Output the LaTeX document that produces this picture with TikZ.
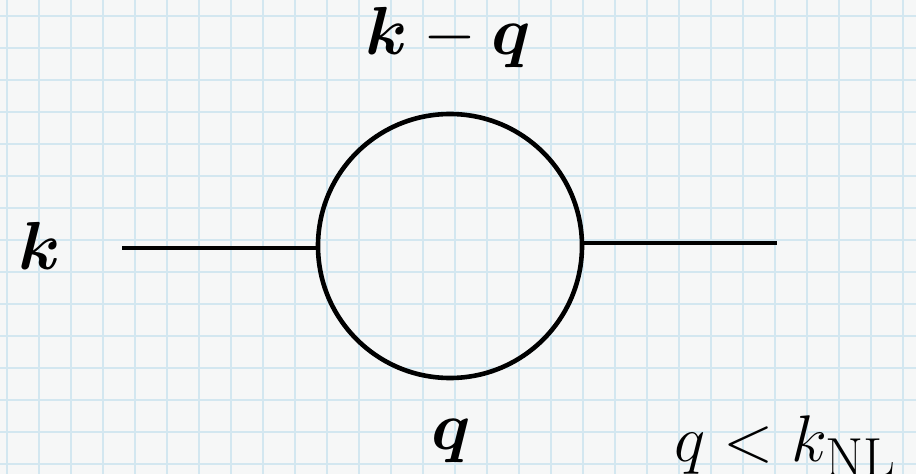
\documentclass[tikz,border=0pt]{standalone}
\usepackage{amsmath}
\usepackage{bm}
\definecolor{paper}{HTML}{F6F7F7}
\definecolor{gridblue}{HTML}{D3E7F0}
\tikzset{
  lbl/.style={inner sep=0pt, outer sep=0pt, font=\Huge, scale=2.733},
  prop/.style={line width=4.6pt, black},
}
\begin{document}
\begin{tikzpicture}[x=1pt,y=1pt]
\fill[paper] (0,0) rectangle (916,474);
\useasboundingbox (0,0) rectangle (916,474);
\begin{scope}
\clip (0,0) rectangle (916,474);
\foreach \i in {0,...,28} {
  \draw[gridblue, line width=1.3pt] ({7+32*\i},0) -- ({7+32*\i},474);
}
\foreach \j in {0,...,15} {
  \draw[gridblue, line width=1.3pt] (0,{474-16-32*\j}) -- (916,{474-16-32*\j});
}
\end{scope}
\node[prop, draw, circle, minimum size=264pt, inner sep=0pt] (c) at (450,228) {};
\coordinate (l) at (122,226);
\coordinate (r) at (777,231);
\draw[prop] (l) -- (c.west |- l);
\draw[prop] (c.east |- r) -- (r);
\node[lbl, anchor=base west] (kin) at (19,204) {$\bm{k}$};
\node[lbl, anchor=base] (kq) at (448,419) {$\bm{k}-\bm{q}$};
\node[lbl, anchor=base] (q) at (451,24) {$\bm{q}$};
\node[lbl, anchor=base west, scale=0.97] (cond) at (674,12) {$q<k_{\mathrm{NL}}$};
\end{tikzpicture}
\end{document}
